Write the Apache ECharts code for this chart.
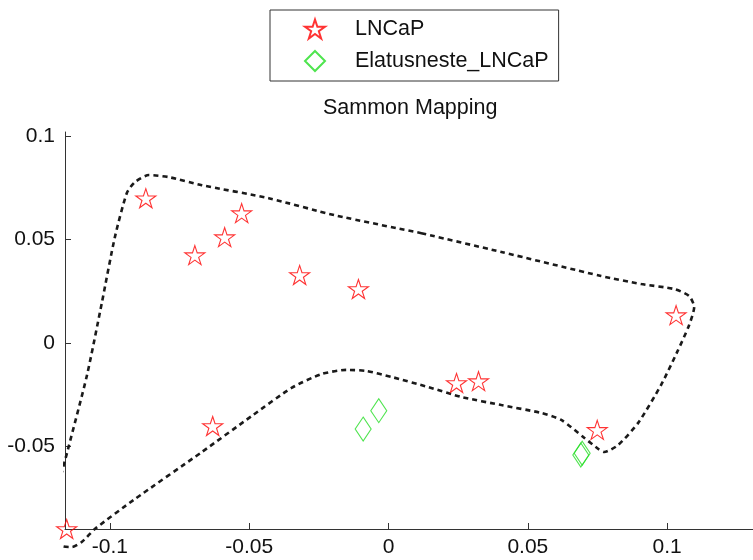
<!DOCTYPE html>
<html>
<head>
<meta charset="utf-8">
<script src="https://cdn.jsdelivr.net/npm/echarts@6/dist/echarts.min.js"></script>
<style>
html,body{margin:0;padding:0;background:#fff;}
#chart{width:753px;height:560px;}
</style>
</head>
<body>
<div id="chart"></div>
<script>
// ---- data ----
const seriesNames = ['LNCaP', 'Elatusneste_LNCaP'];
const lncapX = [-0.1155, -0.0871, -0.0695, -0.0588, -0.0527, -0.0319, -0.0108, 0.0244, 0.0323, -0.0631, 0.0749, 0.1032];
const lncapY = [-0.0899, 0.0700, 0.0425, 0.0512, 0.0628, 0.0329, 0.0261, -0.0193, -0.0184, -0.0401, -0.0420, 0.0135];
const elatX = [-0.0091, -0.0035, 0.0690, 0.0695];
const elatY = [-0.0416, -0.0327, -0.0541, -0.0533];
const contourX = [0.0118, 0.0405, 0.0763, 0.0907, 0.1025, 0.1079, 0.1097, 0.1079, 0.1036, 0.0978, 0.0896, 0.0824, 0.0774, 0.0753, 0.0703, 0.0620, 0.0548, 0.0405, 0.0262, 0.0143, 0.0011, -0.0079, -0.0151, -0.0240, -0.0348, -0.0491, -0.0670, -0.0914, -0.1054, -0.1100, -0.1136, -0.1172, -0.1201, -0.1201, -0.1179, -0.1151, -0.1082, -0.1029, -0.0982, -0.0939, -0.0910, -0.0860, -0.0789, -0.0670, -0.0430, -0.0194, 0.0118];
const contourY = [0.0531, 0.0440, 0.0324, 0.0285, 0.0261, 0.0227, 0.0174, 0.0087, -0.0043, -0.0203, -0.0386, -0.0493, -0.0527, -0.0512, -0.0459, -0.0372, -0.0338, -0.0300, -0.0261, -0.0213, -0.0164, -0.0135, -0.0130, -0.0150, -0.0217, -0.0353, -0.0527, -0.0758, -0.0899, -0.0961, -0.0986, -0.0981, -0.0928, -0.0831, -0.0662, -0.0517, -0.0155, 0.0193, 0.0512, 0.0725, 0.0778, 0.0812, 0.0802, 0.0763, 0.0700, 0.0618, 0.0531];
const xTicks = [-0.1, -0.05, 0, 0.05, 0.1];
const yTicks = [-0.05, 0, 0.05, 0.1];
const titleText = 'Sammon Mapping';

// ---- chart ----
const zip = (a, b) => a.map((v, i) => [v, b[i]]);
const starPath = 'path://M0,-100 L22.45,-30.9 L95.1,-30.9 L36.3,11.8 L58.8,80.9 L0,38.2 L-58.8,80.9 L-36.3,11.8 L-95.1,-30.9 L-22.45,-30.9 Z';
const FONT = 'Liberation Sans, Arial, sans-serif';

const chart = echarts.init(document.getElementById('chart'), null, {renderer: 'canvas'});
chart.setOption({
  animation: false,
  backgroundColor: '#ffffff',
  title: {
    text: titleText,
    left: 318, top: 92,
    textStyle: {fontFamily: FONT, fontSize: 21.5, fontWeight: 'normal', color: '#111'}
  },
  legend: {
    data: [{name: seriesNames[0], icon: starPath}, {name: seriesNames[1], icon: 'diamond'}],
    orient: 'vertical',
    left: 270, top: 10,
    padding: [8, 10, 9, 34],
    itemWidth: 20, itemHeight: 20, itemGap: 10,
    borderColor: '#333', borderWidth: 1,
    textStyle: {fontFamily: FONT, fontSize: 21.5, color: '#111', lineHeight: 20, padding: [0, 0, 0, 25]}
  },
  grid: {left: 65, right: 0, top: 132, bottom: 31, containLabel: false},
  xAxis: {
    type: 'value', min: -0.1161, max: 0.1308,
    splitLine: {show: false},
    axisLine: {show: true, onZero: false, lineStyle: {color: '#333', width: 1}},
    axisTick: {show: true, inside: true, length: 6, customValues: xTicks, lineStyle: {color: '#333'}},
    axisLabel: {show: true, customValues: xTicks, margin: 8, fontFamily: FONT, fontSize: 21, color: '#111'}
  },
  yAxis: {
    type: 'value', min: -0.0899, max: 0.102,
    splitLine: {show: false},
    axisLine: {show: true, onZero: false, lineStyle: {color: '#333', width: 1}},
    axisTick: {show: true, inside: true, length: 6, customValues: yTicks, lineStyle: {color: '#333'}},
    axisLabel: {show: true, customValues: yTicks, margin: 10, fontFamily: FONT, fontSize: 21, color: '#111'}
  },
  series: [
    {
      name: 'contour', type: 'line', data: zip(contourX, contourY),
      showSymbol: false, symbol: 'none', smooth: 0.22, clip: false, silent: true, z: 1,
      lineStyle: {type: [5, 4], width: 2.6, color: '#1a1a1a'}
    },
    {
      name: seriesNames[0], type: 'scatter', data: zip(lncapX, lncapY),
      symbol: starPath, symbolSize: 20, symbolKeepAspect: true, clip: false, z: 3,
      itemStyle: {color: 'rgba(255,255,255,0)', borderColor: '#ff0000', borderWidth: 1.1}
    },
    {
      name: seriesNames[1], type: 'scatter', data: zip(elatX, elatY),
      symbol: 'diamond', symbolSize: [16, 24], clip: false, z: 3,
      itemStyle: {color: 'rgba(255,255,255,0)', borderColor: '#22dd22', borderWidth: 1.1}
    }
  ]
});
</script>
</body>
</html>
